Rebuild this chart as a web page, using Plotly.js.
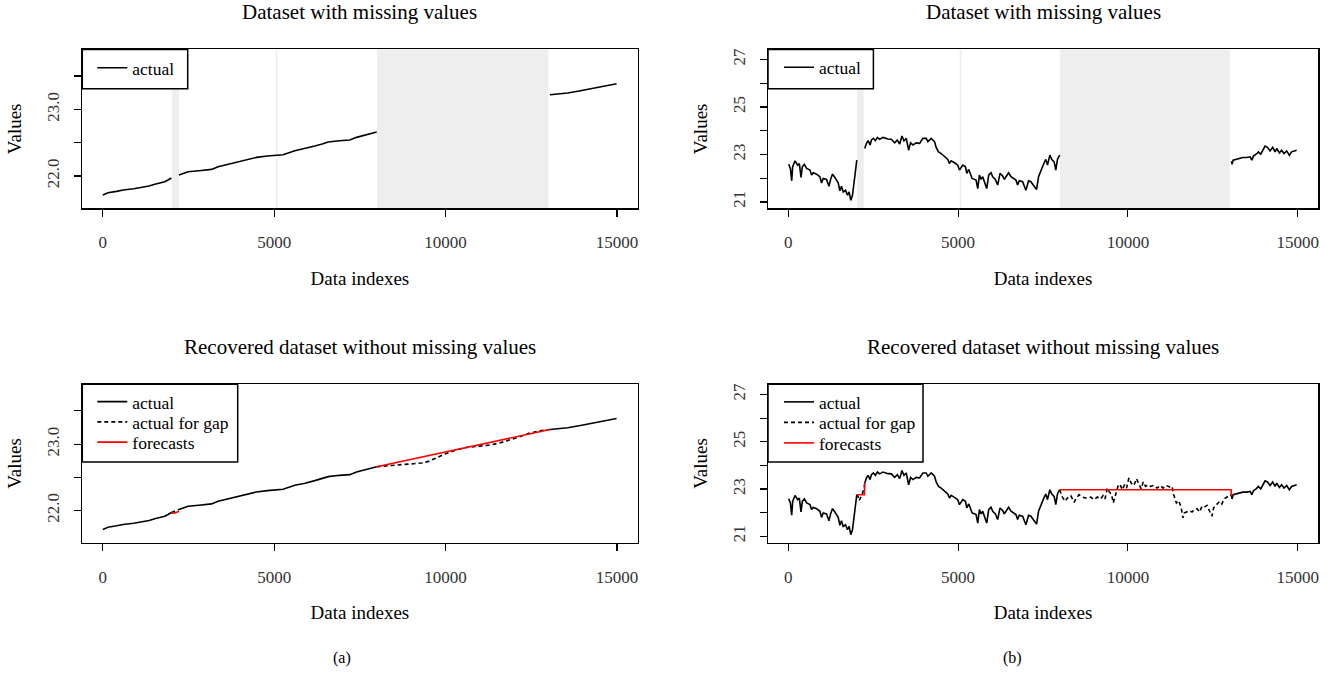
<!DOCTYPE html>
<html>
<head>
<meta charset="utf-8">
<script src="https://cdn.plot.ly/plotly-3.0.1.min.js"></script>
<style>html,body{margin:0;padding:0;background:#fff;}#chart{width:1337px;height:676px;}</style>
</head>
<body>
<div id="chart"></div>
<script>
// ---------------- DATA ----------------
// Gap regions (data indexes) of the dataset with missing values
const gapStart = [2020, 5045, 8000];
const gapEnd   = [2220, 5095, 13000];

// (a) smooth series: actual values (null = missing)
const aIdx = [0,150,400,590,900,1173,1350,1515,1700,1807,1900,2000,2010,
  2220,2350,2487,2800,3170,3363,3600,3850,4150,4483,4800,5115,5260,5601,5900,6185,6400,6574,6900,7207,7402,7694,7990,8000,
  13045,13564,13935,14306,14677,14990];
const aVal = [21.716,21.75,21.77,21.79,21.81,21.83,21.85,21.876,21.90,21.915,21.94,21.97,null,
  22.015,22.04,22.064,22.08,22.10,22.14,22.17,22.21,22.24,22.28,22.30,22.31,22.32,22.38,22.41,22.45,22.48,22.51,22.53,22.54,22.58,22.62,22.66,null,
  23.22,23.245,23.28,23.32,23.36,23.385];
// (a) actual values inside the gaps
const aGapIdx = [2000,2110,2220,null,7990,8500,9000,9300,9500,9750,10000,10300,10600,11000,11340,11600,11830,12100,12450,12750,13045];
const aGapVal = [21.97,21.99,22.015,null,22.66,22.68,22.70,22.715,22.74,22.80,22.855,22.91,22.95,22.97,22.99,23.02,23.055,23.10,23.165,23.20,23.22];
// (a) forecasts for the gaps
const aFcIdx = [2000,2110,2220,null,7990,13045];
const aFcVal = [21.96,21.965,21.99,null,22.66,23.22];

// (b) noisy series: actual values (null = missing)
const bIdx = [10,59,98,127,196,274,323,372,411,470,538,636,685,734,832,929,978,1027,1125,1194,1252,1301,1370,1419,1468,1517,1565,1614,1683,1742,1790,1839,1888,2016,2030,
  2250,2299,2348,2407,2446,2505,2563,2622,2691,2788,2935,3033,3131,3209,3278,3346,3405,3473,3542,3600,3669,3767,3865,3962,4060,4109,4207,4305,4354,4422,4501,4599,4696,4745,4794,4892,4990,5039,
  5138,5216,5255,5314,5363,5412,5480,5529,5578,5627,5676,5725,5774,5842,5901,5969,6018,6097,6165,6234,6312,6361,6410,6488,6557,6625,6703,6752,6801,6899,6997,7075,7144,7212,7310,7369,7437,7486,7535,7584,7633,7701,7760,7828,7877,7926,7990,8000,
  13050,13070,13100,13190,13259,13386,13503,13601,13650,13699,13777,13846,13914,13973,14041,14110,14188,14266,14335,14384,14462,14530,14599,14677,14756,14824,14892,14971];
const bVal = [22.59,22.41,21.89,22.48,22.73,22.55,22.62,22.03,22.48,22.58,22.41,22.34,22.13,22.23,22.17,22.06,21.80,21.99,21.95,21.66,21.99,22.17,22.03,21.89,21.80,21.47,21.66,21.42,21.49,21.28,21.42,21.07,21.28,22.76,null,
  23.25,23.47,23.58,23.40,23.61,23.68,23.58,23.72,23.64,23.72,23.65,23.64,23.49,23.61,23.44,23.78,23.58,23.68,23.18,23.49,23.40,23.49,23.47,23.68,23.68,23.54,23.68,23.54,23.30,23.11,23.04,22.90,22.79,22.62,22.73,22.65,22.55,22.34,
  22.55,22.48,22.20,22.37,22.13,21.99,21.95,21.92,21.56,22.13,21.95,22.06,21.85,21.56,22.13,22.23,22.06,21.95,21.71,22.20,22.09,21.95,22.06,22.23,22.06,21.99,21.92,21.71,21.89,21.85,21.49,21.89,21.85,21.71,21.52,22.06,22.27,22.48,22.65,22.79,22.55,22.97,22.79,22.69,22.34,22.79,22.97,null,
  22.72,22.58,22.76,22.79,22.83,22.87,22.87,22.90,22.76,22.93,23.01,23.11,23.01,23.18,23.35,23.30,23.15,23.30,23.11,23.25,23.07,23.18,23.04,23.15,22.97,23.11,23.15,23.18];
// (b) actual values inside the gaps
const bGapIdx = [2016,2035,2084,2133,2172,2231,2250,null,
  7990,8073,8151,8220,8318,8416,8484,8562,8660,8758,8905,9003,9100,9198,9267,9325,9394,9443,9521,9570,9638,9707,9766,9834,9903,9961,10030,10098,10177,10255,10323,10392,10451,10519,10587,10666,10764,10862,10959,11038,11135,11253,11302,11351,11429,11497,11566,11625,11664,11742,11820,11889,11957,12036,12114,12182,12251,12329,12407,12476,12525,12623,12701,12769,12838,12916,12994,13050];
const bGapVal = [22.76,22.76,22.51,22.62,22.76,23.04,23.25,null,
  22.97,22.66,22.48,22.62,22.72,22.44,22.62,22.76,22.66,22.62,22.66,22.55,22.66,22.58,22.72,22.58,23.04,22.90,22.76,22.41,22.76,23.11,23.21,22.97,23.18,23.04,23.47,23.25,23.15,23.44,23.21,23.01,23.30,23.11,23.18,23.11,23.15,23.04,23.15,23.04,23.15,23.07,23.11,22.76,22.41,22.51,22.23,21.78,21.99,22.03,22.08,22.03,22.13,22.17,22.03,22.27,22.23,22.31,22.03,21.85,22.20,22.34,22.48,22.37,22.59,22.65,22.76,22.72];
// (b) forecasts for the gaps
const bFcIdx = [2016,2240,2250,null,7990,13040,13050];
const bFcVal = [22.76,22.76,23.25,null,22.97,22.97,22.72];

// Tick labels
const xTicks = [0,5000,10000,15000];
const xTickText = ['0','5000','10000','15000'];
const aYTicks = [22.0,22.5,23.0,23.5];
const aYTickText = ['22.0','','23.0',''];
const bYTicks = [21,22,23,24,25,26,27];
const bYTickText = ['21','','23','','25','','27'];

// Texts
const topTitle = 'Dataset with missing values';
const bottomTitle = 'Recovered dataset without missing values';
const xTitle = 'Data indexes';
const yTitle = 'Values';
const legActual = 'actual', legGap = 'actual for gap', legFc = 'forecasts';
const panelLabels = ['(a)', '(b)'];

// ---------------- LAYOUT ----------------
const W = 1337, H = 676;
const FONT = 'Liberation Serif, Times New Roman, serif';
const px = v => v / W, py = v => 1 - v / H;

const colA = [82.3, 637.5], colB = [768, 1318];
const rowTop = [49.4, 208.3], rowBot = [384.3, 542.7];

function xaxis(col, anchor) {
  return {domain: [px(col[0]), px(col[1])], anchor: anchor, range: [-600, 15600],
    tickmode: 'array', tickvals: xTicks, ticktext: xTickText,
    ticks: 'outside', ticklen: 7, tickwidth: 1.2, tickcolor: '#000',
    showline: true, linecolor: '#000', linewidth: 1.5, mirror: true,
    showgrid: false, zeroline: false, ticklabelstandoff: 11,
    tickfont: {family: FONT, size: 17, color: '#333'},
    title: {text: xTitle, font: {family: FONT, size: 19, color: '#000'}, standoff: 20}};
}
function yaxis(row, anchor, range, tv, tt) {
  return {domain: [py(row[1]), py(row[0])], anchor: anchor, range: range,
    tickmode: 'array', tickvals: tv, ticktext: tt, tickangle: -90,
    ticks: 'outside', ticklen: 7, tickwidth: 1.2, tickcolor: '#000',
    showline: true, linecolor: '#000', linewidth: 1.5, mirror: true,
    showgrid: false, zeroline: false, ticklabelstandoff: 8,
    tickfont: {family: FONT, size: 17, color: '#333'},
    title: {text: yTitle, font: {family: FONT, size: 19, color: '#000'}, standoff: 17}};
}
const aRange = [21.516, 23.90], bRange = [20.73, 27.43];

const layout = {
  width: W, height: H, margin: {l: 0, r: 0, t: 0, b: 0},
  paper_bgcolor: '#fff', plot_bgcolor: '#fff', showlegend: true,
  xaxis: xaxis(colA, 'y'),  yaxis: yaxis(rowTop, 'x', aRange, aYTicks, aYTickText),
  xaxis2: xaxis(colB, 'y2'), yaxis2: yaxis(rowTop, 'x2', bRange, bYTicks, bYTickText),
  xaxis3: xaxis(colA, 'y3'), yaxis3: yaxis(rowBot, 'x3', aRange, aYTicks, aYTickText),
  xaxis4: xaxis(colB, 'y4'), yaxis4: yaxis(rowBot, 'x4', bRange, bYTicks, bYTickText),
  shapes: [], annotations: []
};

// gray bands for missing values (top panels)
['x', 'x2'].forEach(xa => {
  const ya = xa === 'x' ? 'y' : 'y2';
  gapStart.forEach((s, i) => layout.shapes.push({type: 'rect', xref: xa, yref: ya + ' domain',
    x0: s, x1: gapEnd[i], y0: 0, y1: 1, fillcolor: '#eeeeee', line: {width: 0}, layer: 'below'}));
});

// legend frames
const legBoxes = [
  {x: [colA[0], 187.7], y: [rowTop[0], 88.7]},
  {x: [colA[0], 237.7], y: [rowBot[0], 462]},
  {x: [colB[0], 873.4], y: [rowTop[0], 88.7]},
  {x: [colB[0], 923], y: [rowBot[0], 462]}
];
legBoxes.forEach(b => layout.shapes.push({type: 'rect', xref: 'paper', yref: 'paper',
  x0: px(b.x[0]), x1: px(b.x[1]), y0: py(b.y[1]), y1: py(b.y[0]),
  fillcolor: '#fff', line: {color: '#000', width: 1.5}, layer: 'above'}));

// one legend per entry so that the entries sit at R's spacing
const LEG_OFF = 19.5;  // distance from legend top to entry centre
function legend(left, centre) {
  return {x: px(left), y: py(centre - LEG_OFF), xanchor: 'left', yanchor: 'top', bgcolor: 'rgba(0,0,0,0)',
    borderwidth: 0, itemwidth: 30, tracegroupgap: 0, traceorder: 'normal',
    font: {family: FONT, size: 17.5, color: '#000'}};
}
const legA = colA[0] + 10, legB = colB[0] + 11;
layout.legend  = legend(legA, 69.3);
layout.legend2 = legend(legA, 403.3);
layout.legend5 = legend(legA, 423.5);
layout.legend6 = legend(legA, 443.7);
layout.legend3 = legend(legB, 68.8);
layout.legend4 = legend(legB, 403.5);
layout.legend7 = legend(legB, 424);
layout.legend8 = legend(legB, 444.5);

// subplot titles
[[colA, rowTop, topTitle], [colB, rowTop, topTitle], [colA, rowBot, bottomTitle], [colB, rowBot, bottomTitle]].forEach(t => {
  layout.annotations.push({xref: 'paper', yref: 'paper', x: px((t[0][0] + t[0][1]) / 2), y: py(t[1][0] - 37),
    text: t[2], showarrow: false, xanchor: 'center', yanchor: 'middle',
    font: {family: FONT, size: 21, color: '#000'}});
});
// panel labels
[[342, panelLabels[0]], [1012, panelLabels[1]]].forEach(p => layout.annotations.push({
  xref: 'paper', yref: 'paper', x: px(p[0]), y: py(658), text: p[1], showarrow: false,
  xanchor: 'center', yanchor: 'middle', font: {family: FONT, size: 16, color: '#000'}}));

// ---------------- TRACES ----------------
const LW = 1.6;
function line(x, y, xa, ya, name, leg, color, dash) {
  return {type: 'scatter', mode: 'lines', x: x, y: y, xaxis: xa, yaxis: ya, name: name,
    legend: leg, connectgaps: false, hoverinfo: 'skip',
    line: {color: color, width: LW, dash: dash || 'solid'}};
}
const DASH = '4px,3px';
const data = [
  line(aIdx, aVal, 'x', 'y', legActual, 'legend', '#000'),
  line(bIdx, bVal, 'x2', 'y2', legActual, 'legend3', '#000'),
  line(aIdx, aVal, 'x3', 'y3', legActual, 'legend2', '#000'),
  line(aGapIdx, aGapVal, 'x3', 'y3', legGap, 'legend5', '#000', DASH),
  line(aFcIdx, aFcVal, 'x3', 'y3', legFc, 'legend6', '#ff0000'),
  line(bIdx, bVal, 'x4', 'y4', legActual, 'legend4', '#000'),
  line(bGapIdx, bGapVal, 'x4', 'y4', legGap, 'legend7', '#000', DASH),
  line(bFcIdx, bFcVal, 'x4', 'y4', legFc, 'legend8', '#ff0000')
];

Plotly.newPlot('chart', data, layout, {staticPlot: true, displayModeBar: false});
</script>
</body>
</html>
